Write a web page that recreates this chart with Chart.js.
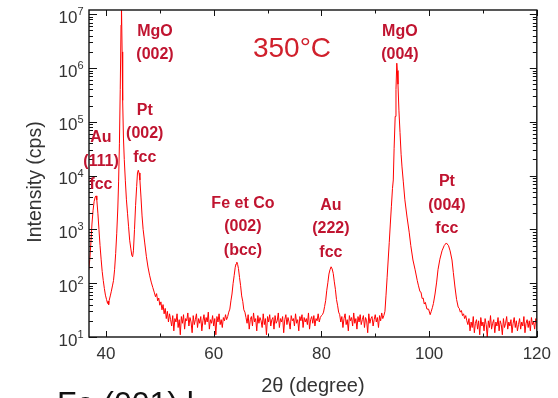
<!DOCTYPE html>
<html><head><meta charset="utf-8">
<script src="https://cdn.jsdelivr.net/npm/chart.js@4.4.1/dist/chart.umd.min.js"></script>
<style>html,body{margin:0;padding:0;background:#fff;overflow:hidden}canvas{display:block}</style>
</head><body>
<canvas id="c" width="558" height="398"></canvas>
<script>
// ---------- DATA ----------
// Au(111) + MgO(002) + Pt(002) region
const angLow = [36.8,37.0,37.2,37.4,37.6,37.8,38.0,38.15,38.3,38.5,
  38.7,38.9,39.1,39.3,39.5,39.7,39.9,40.1,40.3,40.4,
  40.5,40.6,40.8,41.0,41.2,41.4,41.6,41.8,42.0,42.2,
  42.35,42.5,42.65,42.8,42.85,42.9,43.0,43.1,43.25,43.4,
  43.6,43.8,44.0,44.2,44.4,44.6,44.8,44.95,45.1,45.3,
  45.5,45.7,45.85,46.0,46.15,46.3,46.5,46.7,46.9,47.2,
  47.5,47.8,48.1,48.4,48.7,49.0,
  49.2,49.4,49.6,49.8,50.0,50.2,50.4,50.6,50.8,51.0,51.2,51.4,51.6,51.8,52.0];
const cpsLow = [178,280,560,1260,2240,3300,4000,4200,3550,2000,
  1000,500,280,165,112,80,60,50,42,46,
  40,48,58,71,89,112,178,355,850,2500,
  7900,40000,400000,6300000,20000000,16000000,2000000,250000,50000,20000,
  8000,3550,2000,1120,630,450,330,310,400,1000,
  2800,6300,11200,12600,11200,8300,4000,1780,1000,560,
  316,200,141,105,83,66,
  56,64,47,53,39,45,32,40,27,34,22,30,19,27,21];
// background 52-62.4
const angBg1 = [52.2,52.4,52.6,52.8,53.0,53.2,53.4,53.6,53.8,54.0,
  54.2,54.4,54.6,54.8,55.0,55.2,55.4,55.6,55.8,56.0,
  56.2,56.4,56.6,56.8,57.0,57.2,57.4,57.6,57.8,58.0,
  58.2,58.4,58.6,58.8,59.0,59.2,59.4,59.6,59.8,60.0,
  60.2,60.4,60.6,60.8,61.0,61.2,61.4,61.6,61.8,62.0,
  62.2,62.4];
const cpsBg1 = [16,25,13,22,19,27,15,21,11,24,
  18,26,14,22,20,28,16,23,19,12,
  25,17,21,27,15,22,18,24,13,20,
  26,17,23,19,29,14,21,18,25,16,
  22,11,24,19,27,17,21,15,23,20,
  26,21];
// Fe/Co (002) bcc
const angFeCo = [62.6,62.8,63.0,63.2,63.4,63.6,63.8,64.0,64.15,64.3,64.45,64.6,64.8,65.0,65.2,65.4,65.6,65.8,66.0];
const cpsFeCo = [24,29,33,47,63,98,138,198,228,246,222,188,128,90,58,46,32,29,23];
// background 66.2-80
const angBg2 = [66.2,66.4,66.6,66.8,67.0,67.2,67.4,67.6,67.8,68.0,
  68.2,68.4,68.6,68.8,69.0,69.2,69.4,69.6,69.8,70.0,
  70.2,70.4,70.6,70.8,71.0,71.2,71.4,71.6,71.8,72.0,
  72.2,72.4,72.6,72.8,73.0,73.2,73.4,73.6,73.8,74.0,
  74.2,74.4,74.6,74.8,75.0,75.2,75.4,75.6,75.8,76.0,
  76.2,76.4,76.6,76.8,77.0,77.2,77.4,77.6,77.8,78.0,
  78.2,78.4,78.6,78.8,79.0,79.2,79.4,79.6,79.8,80.0];
const cpsBg2 = [18,26,14,21,24,16,28,19,22,13,
  25,18,23,20,15,27,17,22,11,24,
  19,26,16,21,23,14,25,18,20,28,
  15,22,19,24,12,21,26,17,23,19,
  14,25,20,22,16,27,18,21,13,24,
  20,26,15,23,19,22,17,28,14,21,
  24,18,25,16,22,20,27,19,23,25];
// Au (222) fcc
const angAu222 = [80.2,80.4,80.6,80.8,81.0,81.2,81.4,81.6,81.8,82.0,82.2,82.4,82.6,82.8,83.0,83.2,83.4];
const cpsAu222 = [26,29,37,48,74,102,148,178,202,184,152,106,77,50,39,29,26];
// background 83.6-91.4
const angBg3 = [83.6,83.8,84.0,84.2,84.4,84.6,84.8,85.0,85.2,85.4,
  85.6,85.8,86.0,86.2,86.4,86.6,86.8,87.0,87.2,87.4,
  87.6,87.8,88.0,88.2,88.4,88.6,88.8,89.0,89.2,89.4,
  89.6,89.8,90.0,90.2,90.4,90.6,90.8,91.0,91.2,91.4];
const cpsBg3 = [19,24,15,22,27,17,21,13,25,20,
  23,16,28,18,22,14,24,19,26,17,
  21,25,15,23,20,12,27,18,22,24,
  16,21,26,19,23,15,25,20,28,22];
// MgO (004)
const angMgO4 = [91.6,91.8,92.0,92.2,92.4,92.6,92.8,93.0,93.2,93.35,
  93.5,93.7,93.85,94.0,94.1,94.22,94.4,94.6,94.8,94.97,
  95.2,95.5,95.9,96.3,96.6,97.0,97.4,97.8,98.0,98.3,
  98.5,98.7,98.9,99.1,99.3,99.6,99.9,100.2];
const cpsMgO4 = [25,30,60,126,270,575,1260,2700,5750,8300,
  31600,126000,400000,1230000,900000,500000,160000,63000,25000,14500,
  7900,3550,1700,890,500,270,178,112,92,70,
  68,52,53,41,44,33,33,26];
// Pt (004) fcc
const angPt4 = [100.4,100.6,100.8,101.1,101.4,101.65,102.0,102.4,102.8,103.2,
  103.6,103.9,104.25,104.5,104.8,105.1,105.4,105.6,105.8,106.0,
  106.2,106.4,106.6,106.8,107.0];
const cpsPt4 = [30,35,42,63,105,178,280,400,500,560,
  500,400,270,158,85,50,36,34,29,31,
  25,27,22,25,20];
// background 107.2-120
const angBg4 = [107.2,107.4,107.6,107.8,108.0,108.2,108.4,108.6,108.8,109.0,
  109.2,109.4,109.6,109.8,110.0,110.2,110.4,110.6,110.8,111.0,
  111.2,111.4,111.6,111.8,112.0,112.2,112.4,112.6,112.8,113.0,
  113.2,113.4,113.6,113.8,114.0,114.2,114.4,114.6,114.8,115.0,
  115.2,115.4,115.6,115.8,116.0,116.2,116.4,116.6,116.8,117.0,
  117.2,117.4,117.6,117.8,118.0,118.2,118.4,118.6,118.8,119.0,
  119.2,119.4,119.6,119.8,120.0];
const cpsBg4 = [17,22,13,19,15,24,12,18,21,14,
  20,11,23,16,19,13,22,17,10,20,
  15,25,14,18,21,12,19,16,23,13,
  20,17,11,22,15,18,24,14,19,16,
  21,12,18,23,15,20,13,17,22,14,
  19,16,24,12,18,21,15,20,13,23,
  17,19,14,22,18];

const xTickValues = [40, 60, 80, 100, 120];
const xTickLabels = ['40', '60', '80', '100', '120'];
const xMinorValues = [50, 70, 90, 110];
const yTickValues = [1e1, 1e2, 1e3, 1e4, 1e5, 1e6, 1e7];
const yTickBase = '10';
const yTickExponents = ['1', '2', '3', '4', '5', '6', '7'];
const yMinorMultipliers = [2, 3, 4, 5, 6, 7, 8, 9];

const xTitle = '2θ (degree)';
const yTitle = 'Intensity (cps)';
const tempLabel = '350°C';
const footerText = 'Fe (001) l';
const peakLabelText = [
  ['MgO', '(002)'],
  ['Pt', '(002)', 'fcc'],
  ['Au', '(111)', 'fcc'],
  ['Fe et Co', '(002)', '(bcc)'],
  ['Au', '(222)', 'fcc'],
  ['MgO', '(004)'],
  ['Pt', '(004)', 'fcc']
];

// ---------- BUILD ----------
const segments = [[angLow,cpsLow],[angBg1,cpsBg1],[angFeCo,cpsFeCo],[angBg2,cpsBg2],
  [angAu222,cpsAu222],[angBg3,cpsBg3],[angMgO4,cpsMgO4],[angPt4,cpsPt4],[angBg4,cpsBg4]];
const points = [];
segments.forEach(([a, c], k) => {
  if (a.length !== c.length) throw new Error('segment ' + k + ' length mismatch ' + a.length + ' vs ' + c.length);
  a.forEach((v, i) => points.push({x: v, y: c[i]}));
});

// label anchors (2θ, cps of first line) and styles
const labelAnchors = [[49.1,4.8e6],[47.2,1.65e5],[39.07,5.0e4],[65.43,3080],[81.76,2830],[94.57,4.8e6],[103.3,7600]];
const FONT = '"Liberation Sans", Arial, Helvetica, sans-serif';

const decor = {
  id: 'decor',
  afterDatasetsDraw(chart) {
    const {ctx, chartArea: a, scales: {x, y}} = chart;
    ctx.save();
    // frame
    ctx.strokeStyle = '#111';
    ctx.lineWidth = 1.4;
    ctx.strokeRect(a.left, a.top, a.right - a.left, a.bottom - a.top);
    ctx.lineWidth = 1;
    const seg = (x1, y1, x2, y2) => { ctx.beginPath(); ctx.moveTo(x1, y1); ctx.lineTo(x2, y2); ctx.stroke(); };
    // x ticks (inward, bottom and top)
    xTickValues.forEach(v => { const p = Math.round(x.getPixelForValue(v)) + 0.5; seg(p, a.bottom, p, a.bottom - 6); seg(p, a.top, p, a.top + 6); });
    xMinorValues.forEach(v => { const p = Math.round(x.getPixelForValue(v)) + 0.5; seg(p, a.bottom, p, a.bottom - 3.5); seg(p, a.top, p, a.top + 3.5); });
    // y ticks (inward, left and right)
    yTickValues.forEach(d => {
      const p = Math.round(y.getPixelForValue(d)) + 0.5;
      seg(a.left, p, a.left + 8, p); seg(a.right, p, a.right - 7, p);
      yMinorMultipliers.forEach(m => {
        const v = d * m;
        if (v > y.max) return;
        const q = Math.round(y.getPixelForValue(v)) + 0.5;
        seg(a.left, q, a.left + 4, q); seg(a.right, q, a.right - 4, q);
      });
    });
    // y tick labels 10^n
    ctx.fillStyle = '#333';
    ctx.textBaseline = 'alphabetic';
    ctx.textAlign = 'right';
    yTickValues.forEach((v, i) => {
      const p = y.getPixelForValue(v);
      ctx.font = '11px ' + FONT;
      const ew = ctx.measureText(yTickExponents[i]).width;
      ctx.fillText(yTickExponents[i], 83.5, p + 1);
      ctx.font = '17px ' + FONT;
      ctx.fillText(yTickBase, 83.5 - ew, p + 8.5);
    });
    // y title
    ctx.save();
    ctx.translate(35.5, 182);
    ctx.rotate(-Math.PI / 2);
    ctx.textAlign = 'center';
    ctx.textBaseline = 'middle';
    ctx.font = '19.5px ' + FONT;
    ctx.fillStyle = '#333';
    ctx.fillText(yTitle, 0, 0);
    ctx.restore();
    // peak labels
    ctx.textAlign = 'center';
    ctx.textBaseline = 'middle';
    ctx.font = 'bold 16px ' + FONT;
    ctx.fillStyle = '#c01430';
    peakLabelText.forEach((lines, i) => {
      const px = x.getPixelForValue(labelAnchors[i][0]);
      const py = y.getPixelForValue(labelAnchors[i][1]);
      lines.forEach((t, j) => ctx.fillText(t, px, py + j * 23.5));
    });
    // temperature
    ctx.font = '28px ' + FONT;
    ctx.fillStyle = '#d0202c';
    ctx.textBaseline = 'alphabetic';
    ctx.fillText(tempLabel, 292, 57);
    // footer (cut-off text of the page)
    ctx.textAlign = 'left';
    ctx.fillStyle = '#111';
    ctx.font = '32px ' + FONT;
    ctx.fillText(footerText, 57, 414);
    ctx.restore();
  }
};

new Chart(document.getElementById('c'), {
  type: 'line',
  data: { datasets: [{ data: points, borderColor: 'rgb(255,0,0)', borderWidth: 1, pointRadius: 0, tension: 0, fill: false }] },
  options: {
    responsive: false, devicePixelRatio: 1, animation: false, parsing: false,
    layout: { padding: { left: 0, right: 21, top: 10, bottom: 0 } },
    plugins: { legend: { display: false }, tooltip: { enabled: false } },
    scales: {
      x: {
        type: 'linear', min: 36.85, max: 120,
        grid: { display: false, drawTicks: false }, border: { display: false },
        afterBuildTicks: s => { s.ticks = xTickValues.map(v => ({ value: v })); },
        afterFit: s => { s.height = 61; },
        ticks: { autoSkip: false, maxRotation: 0, padding: 7, color: '#333', font: { size: 17, family: FONT },
          callback: v => xTickLabels[xTickValues.indexOf(v)] },
        title: { display: true, text: xTitle, color: '#333', font: { size: 20, family: FONT }, padding: { top: 0, bottom: 0 } }
      },
      y: {
        type: 'logarithmic', min: 10, max: 1.2e7,
        grid: { display: false, drawTicks: false }, border: { display: false },
        ticks: { display: false },
        afterFit: s => { s.width = 89; }
      }
    }
  },
  plugins: [decor]
});
</script></body></html>
